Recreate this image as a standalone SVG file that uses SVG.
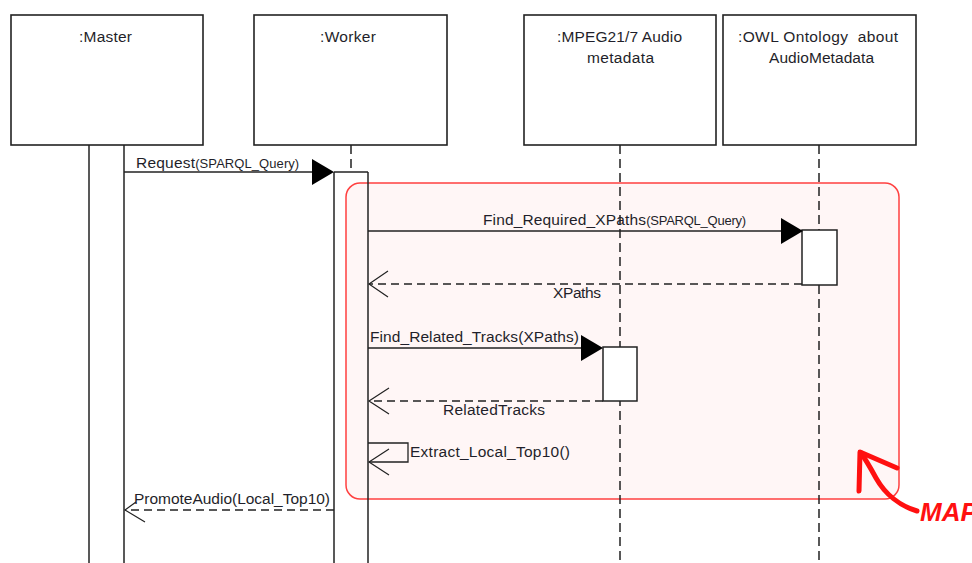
<svg xmlns="http://www.w3.org/2000/svg" width="972" height="563" viewBox="0 0 972 563">
<style>
.box{fill:#fff;stroke:#222;stroke-width:1.6}
.act{fill:none;stroke:#222;stroke-width:1.5}
.actf{fill:#fff;stroke:#222;stroke-width:1.5}
.life{stroke:#222;stroke-width:1.5;stroke-dasharray:9 5;fill:none}
.msg{stroke:#222;stroke-width:1.3;fill:none}
.ret{stroke:#222;stroke-width:1.3;fill:none;stroke-dasharray:8 5}
.head{stroke:#222;stroke-width:1.2;fill:none}
.fill{fill:#000;stroke:none}
text{font-family:"Liberation Sans",Arial,sans-serif;font-size:15.5px;fill:#1f1f2a}
.sm{font-size:13px}
</style>
<rect width="972" height="563" fill="#fff"/>

<g id="master">
<rect class="box" x="11" y="15" width="192" height="130"/>
<text x="105.5" y="42" text-anchor="middle" textLength="53">:Master</text>
<line class="act" x1="89" y1="145" x2="89" y2="563"/>
<line class="act" x1="124" y1="145" x2="124" y2="563"/>
</g>

<g id="worker">
<rect class="box" x="254" y="15" width="193" height="130"/>
<text x="348" y="42" text-anchor="middle" textLength="56">:Worker</text>
<line class="life" x1="351" y1="145" x2="351" y2="172"/>
</g>

<g id="mpeg">
<rect class="box" x="524" y="15" width="192" height="130"/>
<text x="619.5" y="42" text-anchor="middle" textLength="125">:MPEG21/7 Audio</text>
<text x="620.5" y="63" text-anchor="middle" textLength="67">metadata</text>
</g>

<g id="owl">
<rect class="box" x="723" y="15" width="193" height="130"/>
<text x="818" y="42" text-anchor="middle" textLength="160" xml:space="preserve">:OWL Ontology  about</text>
<text x="821.5" y="63" text-anchor="middle" textLength="105">AudioMetadata</text>
</g>

<g id="map-frame">
<rect x="346" y="183" width="553" height="316" rx="14" ry="14" fill="#fff6f6" stroke="#ff4040" stroke-width="1.5"/>
</g>

<g id="lifelines">
<line class="life" x1="620" y1="145" x2="620" y2="563"/>
<line class="life" x1="819" y1="145" x2="819" y2="563"/>
</g>

<g id="worker-activation">
<line class="act" x1="334" y1="172" x2="334" y2="563"/>
<line class="act" x1="368" y1="172" x2="368" y2="563"/>
<line class="act" x1="334" y1="172" x2="368" y2="172"/>
</g>

<g id="owl-activation">
<rect class="actf" x="802" y="230" width="35" height="55"/>
</g>
<g id="mpeg-activation">
<rect class="actf" x="603" y="347" width="34" height="54"/>
</g>

<g id="connectors">
<!-- Request -->
<line class="msg" x1="124" y1="172" x2="320" y2="172"/>
<polygon class="fill" points="312,159 334,172 312,185"/>
<text x="136" y="168"><tspan textLength="59">Request</tspan><tspan class="sm" textLength="104">(SPARQL_Query)</tspan></text>

<!-- Find_Required_XPaths -->
<line class="msg" x1="368" y1="231" x2="790" y2="231"/>
<polygon class="fill" points="781,218 803,231 781,244"/>
<text x="483" y="225"><tspan textLength="163">Find_Required_XPaths</tspan><tspan class="sm" textLength="100">(SPARQL_Query)</tspan></text>

<!-- XPaths return -->
<line class="ret" x1="802" y1="284" x2="369" y2="284"/>
<polyline class="head" points="388,271 369,284 388,297"/>
<text x="553" y="298" textLength="48">XPaths</text>

<!-- Find_Related_Tracks -->
<line class="msg" x1="368" y1="348" x2="590" y2="348"/>
<polygon class="fill" points="581,335 603,348 581,361"/>
<text x="370" y="342" textLength="209">Find_Related_Tracks(XPaths)</text>

<!-- RelatedTracks return -->
<line class="ret" x1="603" y1="401" x2="369" y2="401"/>
<polyline class="head" points="389,388 369,401 389,414"/>
<text x="443" y="415" textLength="102">RelatedTracks</text>

<!-- Self call -->
<polyline class="msg" points="368,443 408,443 408,462 369,462"/>
<polyline class="head" points="389,449 369,462 389,475"/>
<text x="410" y="457" textLength="160">Extract_Local_Top10()</text>

<!-- PromoteAudio return -->
<line class="ret" x1="334" y1="510" x2="125" y2="510"/>
<polyline class="head" points="136,502 125,510 145,522"/>
<text x="134" y="504" textLength="196">PromoteAudio(Local_Top10)</text>
</g>

<g id="annotation">
<path d="M917,511 C900,506 885,494 876,478 C870,467 866,460 861,453" fill="none" stroke="#ff1010" stroke-width="5" stroke-linecap="round"/>
<path d="M859,491 L860,452 L897,468" fill="none" stroke="#ff1010" stroke-width="5" stroke-linecap="round" stroke-linejoin="round"/>
<text x="920" y="521" style="font-family:'Liberation Sans',Arial,sans-serif;font-size:26px;font-weight:bold;font-style:italic;fill:#ff1010">MAP</text>
</g>
</svg>
